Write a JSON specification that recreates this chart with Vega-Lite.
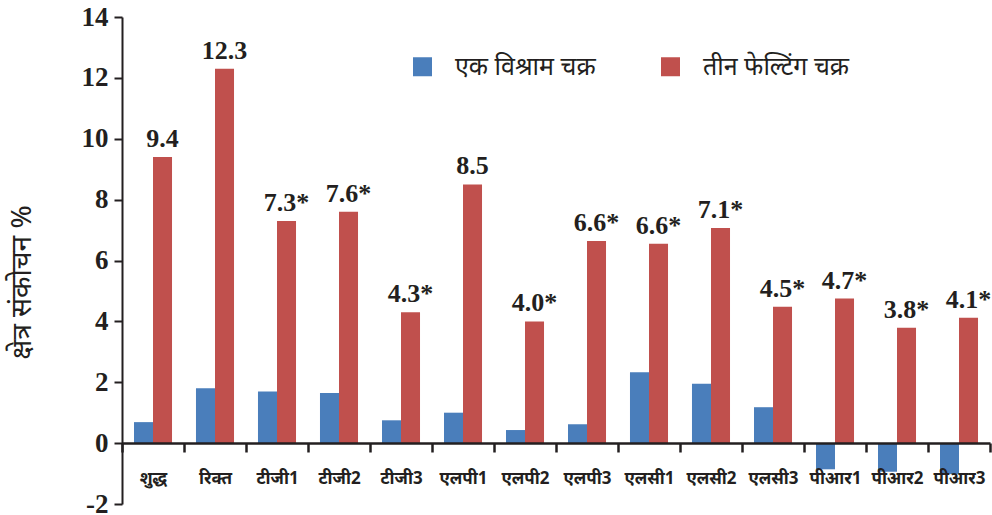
{
  "$schema": "https://vega.github.io/schema/vega-lite/v6.json",
  "width": 868,
  "height": 487,
  "autosize": {"type": "none"},
  "padding": {"left": 122, "top": 17, "right": 2, "bottom": 11},
  "background": "white",
  "config": {"view": {"stroke": null}},
  "data": {
    "values": [
      {"cat": "शुद्ध", "series": "एक विश्राम चक्र", "value": 0.69},
      {"cat": "शुद्ध", "series": "तीन फेल्टिंग चक्र", "value": 9.4, "label": "9.4"},
      {"cat": "रिक्त", "series": "एक विश्राम चक्र", "value": 1.8},
      {"cat": "रिक्त", "series": "तीन फेल्टिंग चक्र", "value": 12.3, "label": "12.3"},
      {"cat": "टीजी1", "series": "एक विश्राम चक्र", "value": 1.7},
      {"cat": "टीजी1", "series": "तीन फेल्टिंग चक्र", "value": 7.3, "label": "7.3*"},
      {"cat": "टीजी2", "series": "एक विश्राम चक्र", "value": 1.65},
      {"cat": "टीजी2", "series": "तीन फेल्टिंग चक्र", "value": 7.6, "label": "7.6*"},
      {"cat": "टीजी3", "series": "एक विश्राम चक्र", "value": 0.75},
      {"cat": "टीजी3", "series": "तीन फेल्टिंग चक्र", "value": 4.3, "label": "4.3*"},
      {"cat": "एलपी1", "series": "एक विश्राम चक्र", "value": 1.0},
      {"cat": "एलपी1", "series": "तीन फेल्टिंग चक्र", "value": 8.5, "label": "8.5"},
      {"cat": "एलपी2", "series": "एक विश्राम चक्र", "value": 0.43},
      {"cat": "एलपी2", "series": "तीन फेल्टिंग चक्र", "value": 4.0, "label": "4.0*"},
      {"cat": "एलपी3", "series": "एक विश्राम चक्र", "value": 0.62},
      {"cat": "एलपी3", "series": "तीन फेल्टिंग चक्र", "value": 6.64, "label": "6.6*"},
      {"cat": "एलसी1", "series": "एक विश्राम चक्र", "value": 2.33},
      {"cat": "एलसी1", "series": "तीन फेल्टिंग चक्र", "value": 6.55, "label": "6.6*"},
      {"cat": "एलसी2", "series": "एक विश्राम चक्र", "value": 1.95},
      {"cat": "एलसी2", "series": "तीन फेल्टिंग चक्र", "value": 7.07, "label": "7.1*"},
      {"cat": "एलसी3", "series": "एक विश्राम चक्र", "value": 1.18},
      {"cat": "एलसी3", "series": "तीन फेल्टिंग चक्र", "value": 4.48, "label": "4.5*"},
      {"cat": "पीआर1", "series": "एक विश्राम चक्र", "value": -0.86},
      {"cat": "पीआर1", "series": "तीन फेल्टिंग चक्र", "value": 4.75, "label": "4.7*"},
      {"cat": "पीआर2", "series": "एक विश्राम चक्र", "value": -0.94},
      {"cat": "पीआर2", "series": "तीन फेल्टिंग चक्र", "value": 3.79, "label": "3.8*"},
      {"cat": "पीआर3", "series": "एक विश्राम चक्र", "value": -1.02},
      {"cat": "पीआर3", "series": "तीन फेल्टिंग चक्र", "value": 4.12, "label": "4.1*"}
    ]
  },
  "encoding": {
    "x": {
      "field": "cat", "type": "nominal", "sort": null,
      "scale": {"paddingInner": 0, "paddingOuter": 0},
      "axis": {
        "orient": "bottom", "offset": -61, "title": null, "zindex": 1,
        "tickBand": "extent", "tickSize": 9, "tickWidth": 2.5, "domainWidth": 2.5,
        "tickColor": "#231f20", "domainColor": "#231f20",
        "labelAngle": 0, "labelPadding": 18, "labelFont": "Noto Sans", "labelFontSize": 17,
        "labelFontWeight": "bold", "labelColor": "#231f20"
      }
    },
    "xOffset": {
      "field": "series", "type": "nominal",
      "sort": ["एक विश्राम चक्र", "तीन फेल्टिंग चक्र"],
      "scale": {"paddingInner": 0, "paddingOuter": 0.63}
    }
  },
  "layer": [
    {
      "mark": {"type": "bar"},
      "encoding": {
        "y": {
          "field": "value", "type": "quantitative",
          "scale": {"domain": [-2, 14], "nice": false, "zero": false},
          "axis": {
            "values": [-2, 0, 2, 4, 6, 8, 10, 12, 14], "grid": false,
            "labelExpr": "'' + datum.value",
            "labelFont": "Liberation Serif", "labelFontWeight": "bold", "labelFontSize": 27,
            "labelColor": "#231f20", "labelPadding": 6,
            "tickColor": "#231f20", "domainColor": "#231f20", "tickSize": 8, "tickWidth": 2, "domainWidth": 2,
            "title": "क्षेत्र संकोचन %", "titleFont": "Noto Sans", "titleFontSize": 28, "titleFontWeight": "normal",
            "titleColor": "#231f20", "titleX": -100, "titleY": 265, "titleAngle": -90, "titleBaseline": "middle", "titleAlign": "center"
          }
        },
        "color": {
          "field": "series", "type": "nominal",
          "scale": {"domain": ["एक विश्राम चक्र", "तीन फेल्टिंग चक्र"], "range": ["#4a7ebb", "#c0504d"]},
          "legend": {
            "orient": "none", "legendX": 288, "legendY": 37, "direction": "horizontal", "title": null,
            "symbolType": "square", "symbolSize": 361, "symbolStrokeWidth": 0, "symbolOpacity": 1,
            "labelFont": "Noto Sans", "labelFontSize": 25, "labelColor": "#231f20", "labelOffset": 20,
            "columnPadding": 62, "padding": 0
          }
        }
      }
    },
    {
      "transform": [{"filter": "datum.label != null"}],
      "mark": {"type": "text", "baseline": "bottom", "align": "center", "dy": -5, "font": "Liberation Serif", "fontWeight": "bold", "fontSize": 26, "color": "#231f20"},
      "encoding": {
        "y": {"field": "value", "type": "quantitative"},
        "text": {"field": "label"}
      }
    }
  ]
}
